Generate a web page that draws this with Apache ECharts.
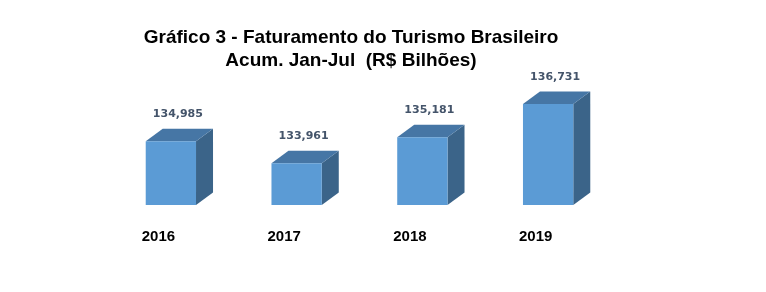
<!DOCTYPE html>
<html>
<head>
<meta charset="utf-8">
<script src="https://cdn.jsdelivr.net/npm/echarts@6/dist/echarts.min.js"></script>
<style>html,body{margin:0;padding:0;background:#fff;}#c{width:766px;height:292px;}</style>
</head>
<body>
<div id="c"></div>
<script>
var categories = ['2016', '2017', '2018', '2019'];
var values = [134.985, 133.961, 135.181, 136.731];
var titleLines = ['Gráfico 3 - Faturamento do Turismo Brasileiro', 'Acum. Jan-Jul  (R$ Bilhões)'];

var BASE = 132;
var chart = echarts.init(document.getElementById('c'));

function fmt(v) { return v.toFixed(3).replace('.', ','); }

chart.setOption({
  animation: false,
  backgroundColor: '#ffffff',
  title: {
    text: titleLines.join('\n'),
    left: 346,
    top: 21,
    textAlign: 'center',
    textStyle: {
      fontFamily: 'Liberation Sans, Arial, sans-serif',
      fontWeight: 'bold',
      fontSize: 19,
      lineHeight: 23,
      color: '#000'
    }
  },
  grid: { left: 108, right: 155, top: 98.33, bottom: 87 },
  xAxis: {
    type: 'category',
    data: categories,
    axisLine: { show: false },
    axisTick: { show: false },
    axisLabel: {
      margin: 24,
      align: 'center',
      padding: [0, 25, 0, 0],
      fontFamily: 'Liberation Sans, Arial, sans-serif',
      fontWeight: 'bold',
      fontSize: 15,
      color: '#000'
    }
  },
  yAxis: {
    type: 'value',
    min: BASE,
    max: 137,
    show: false,
    splitLine: { show: false }
  },
  series: [{
    type: 'custom',
    data: values.map(function (v, i) { return [i, v]; }),
    renderItem: function (params, api) {
      var idx = api.value(0), v = api.value(1);
      var top = api.coord([idx, v]);
      var bot = api.coord([idx, BASE]);
      var w = api.size([1, 0])[0] * 0.4;
      var dx = 17, dy = -12.5;
      var x0 = top[0] - w / 2, x1 = top[0] + w / 2;
      var yt = top[1], yb = bot[1];
      return {
        type: 'group',
        children: [
          { type: 'polygon', shape: { points: [[x1, yt], [x1 + dx, yt + dy], [x1 + dx, yb + dy], [x1, yb]] }, style: { fill: '#3b6489' } },
          { type: 'polygon', shape: { points: [[x0, yt], [x0 + dx, yt + dy], [x1 + dx, yt + dy], [x1, yt]] }, style: { fill: '#4676a5' } },
          { type: 'rect', shape: { x: x0, y: yt, width: w, height: yb - yt }, style: { fill: '#5b9bd5' } },
          { type: 'text', x: top[0] + 7, y: yt + dy - 14.5, style: { text: fmt(v), align: 'center', verticalAlign: 'middle', fill: '#44546a', font: 'bold 11px "DejaVu Sans", sans-serif' } }
        ]
      };
    }
  }]
});
</script>
</body>
</html>
